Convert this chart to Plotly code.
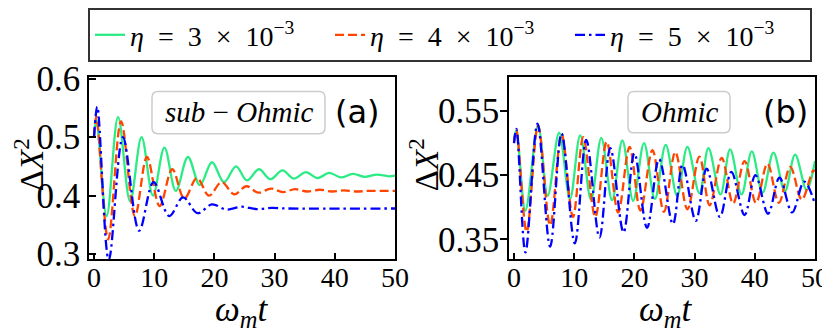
import plotly.graph_objects as go

# window is 830x333, the page body has an 8px margin
OFF = 8
W, H = 830 - OFF, 333 - OFF

# ---------------- data (extrema of the oscillations) ----------------
# panel (a): sub-Ohmic
t_a_green = [0, 0.4, 2.1, 4.0, 6.0, 7.9, 9.8, 11.7, 13.6, 15.6, 17.6, 19.6, 21.6, 23.6, 25.4, 27.4,
             29.3, 31.3, 33.2, 35.2, 37.1, 39.1, 41.0, 43.0, 45.0, 47.0, 48.9, 50]
v_a_green = [0.5, 0.53, 0.365, 0.534, 0.39, 0.5, 0.40, 0.482, 0.408, 0.466, 0.418, 0.457, 0.423, 0.45,
             0.426, 0.445, 0.428, 0.443, 0.429, 0.44, 0.43, 0.439, 0.431, 0.437, 0.432, 0.436, 0.433, 0.434]

t_a_red = [0, 0.4, 2.35, 4.5, 6.8, 8.8, 10.9, 13.0, 15.0, 17.1, 19.1, 21.2, 23.3, 25.3, 27.3, 29.4,
           31.4, 33.4, 35.4, 37.5, 39.5, 41.5, 43.5, 45.5, 50]
v_a_red = [0.5, 0.535, 0.325, 0.527, 0.365, 0.466, 0.382, 0.445, 0.395, 0.43, 0.40, 0.423, 0.402,
           0.416, 0.405, 0.412, 0.406, 0.411, 0.407, 0.41, 0.407, 0.409, 0.407, 0.408, 0.408]

t_a_blue = [0, 0.55, 2.45, 4.8, 7.5, 9.9, 12.5, 14.8, 17.2, 19.6, 22.0, 24.5, 27.0, 29.5, 32.0, 50]
v_a_blue = [0.5, 0.552, 0.29, 0.5, 0.34, 0.423, 0.365, 0.397, 0.37, 0.385, 0.376, 0.381, 0.377,
            0.379, 0.378, 0.378]

# panel (b): Ohmic
t_b_green = [0, 0.4, 1.9, 4.0, 5.6, 7.5, 9.3, 11.0, 12.8, 14.5, 16.3, 18.0, 19.8, 21.6, 23.4, 25.2,
             27.1, 28.8, 30.8, 32.3, 34.3, 35.9, 37.8, 39.5, 41.3, 43.1, 45.0, 46.7, 48.6, 50]
v_b_green = [0.505, 0.52, 0.395, 0.527, 0.418, 0.516, 0.413, 0.512, 0.412, 0.508, 0.411, 0.504,
             0.410, 0.500, 0.413, 0.497, 0.418, 0.494, 0.422, 0.492, 0.420, 0.490, 0.420, 0.487,
             0.423, 0.485, 0.425, 0.482, 0.427, 0.472]

t_b_red = [0, 0.4, 2.1, 4.0, 6.0, 7.9, 9.8, 11.5, 13.5, 15.4, 17.3, 19.2, 21.0, 23.0, 24.9, 26.8,
           28.8, 30.8, 32.5, 34.5, 36.4, 38.3, 40.2, 42.1, 44.0, 45.9, 47.8, 49.7, 50]
v_b_red = [0.5, 0.52, 0.362, 0.527, 0.372, 0.514, 0.385, 0.509, 0.385, 0.502, 0.392, 0.494, 0.395,
           0.489, 0.393, 0.486, 0.397, 0.479, 0.403, 0.477, 0.406, 0.472, 0.407, 0.468, 0.407,
           0.463, 0.412, 0.457, 0.456]

t_b_blue = [0, 0.4, 1.9, 3.9, 6.0, 7.9, 10.1, 12.0, 14.2, 16.0, 18.2, 20.0, 22.1, 24.1, 26.4, 28.0,
            30.2, 32.0, 34.2, 36.1, 38.3, 40.1, 42.2, 44.1, 46.2, 48.2, 50]
v_b_blue = [0.5, 0.522, 0.33, 0.53, 0.339, 0.515, 0.344, 0.505, 0.353, 0.492, 0.361, 0.484, 0.368,
            0.475, 0.374, 0.466, 0.379, 0.46, 0.385, 0.455, 0.388, 0.45, 0.39, 0.446, 0.392, 0.44,
            0.405]

SP = "\u2002"
series_names = [f"<i>η</i>{SP}={SP}3{SP}×{SP}10<sup>−3</sup>",
                f"<i>η</i>{SP}={SP}4{SP}×{SP}10<sup>−3</sup>",
                f"<i>η</i>{SP}={SP}5{SP}×{SP}10<sup>−3</sup>"]
colors = ["#2bec84", "#ff4500", "#0000ff"]
dashes = ["solid", "9px,4px", "10px,4px,2.5px,4px"]

x_ticks = [0, 10, 20, 30, 40, 50]
y_ticks_a = [0.3, 0.4, 0.5, 0.6]
y_ticks_a_text = ["0.3", "0.4", "0.5", "0.6"]
y_ticks_b = [0.35, 0.45, 0.55]
y_ticks_b_text = ["0.35", "0.45", "0.55"]

SERIF = "Liberation Serif"
SANS = "DejaVu Sans"

fig = go.Figure()

panel_a = [(t_a_green, v_a_green), (t_a_red, v_a_red), (t_a_blue, v_a_blue)]
panel_b = [(t_b_green, v_b_green), (t_b_red, v_b_red), (t_b_blue, v_b_blue)]

for i, (t, v) in enumerate(panel_a):
    fig.add_trace(go.Scatter(x=t, y=v, mode="lines", name=series_names[i],
                             line=dict(color=colors[i], dash=dashes[i], width=2.3,
                                       shape="spline", smoothing=1.0),
                             xaxis="x", yaxis="y", showlegend=True))
for i, (t, v) in enumerate(panel_b):
    fig.add_trace(go.Scatter(x=t, y=v, mode="lines", name=series_names[i],
                             line=dict(color=colors[i], dash=dashes[i], width=2.3,
                                       shape="spline", smoothing=1.0),
                             xaxis="x2", yaxis="y2", showlegend=False))

def px_x(p):
    return (p - OFF) / W

def px_y(p):
    return 1 - (p - OFF) / H

ydom = [px_y(258), px_y(72)]

axis_common = dict(showline=True, linecolor="black", linewidth=1.6, mirror=True,
                   showgrid=False, zeroline=False, tickcolor="black", tickwidth=1.5, ticklen=7,
                   automargin=False)

fig.update_layout(
    template="none",
    width=W, height=H, autosize=False,
    margin=dict(l=0, r=0, t=0, b=0, pad=0),
    plot_bgcolor="white", paper_bgcolor="white",
    font=dict(family=SERIF, color="black"),
    xaxis=dict(domain=[px_x(89), px_x(395)], range=[-0.83, 50], anchor="y",
               tickvals=x_ticks, ticks="inside", ticklabelstandoff=-8,
               tickfont=dict(family=SERIF, size=28, color="black"), **axis_common),
    yaxis=dict(domain=ydom, range=[0.291, 0.603], anchor="x",
               tickvals=y_ticks_a, ticktext=y_ticks_a_text, ticks="inside",
               tickfont=dict(family=SERIF, size=35, color="black"), **axis_common),
    xaxis2=dict(domain=[px_x(509), px_x(815)], range=[-0.83, 50], anchor="y2",
                tickvals=x_ticks, ticks="inside", ticklabelstandoff=-8,
                tickfont=dict(family=SERIF, size=28, color="black"), **axis_common),
    yaxis2=dict(domain=ydom, range=[0.319, 0.603], anchor="x2",
                tickvals=y_ticks_b, ticktext=y_ticks_b_text, ticks="outside", ticklabelstandoff=-6,
                tickfont=dict(family=SERIF, size=35, color="black"), **axis_common),
    legend=dict(orientation="h", x=px_x(88), y=px_y(2), xanchor="left", yanchor="top",
                bordercolor="#333333", borderwidth=2, bgcolor="white",
                font=dict(family=SERIF, size=28, color="black"),
                entrywidth=195, entrywidthmode="pixels"),
    showlegend=True,
)

annotations = [
    dict(text="Δ<i>X</i><sup>2</sup>", x=px_x(29), y=px_y(162), textangle=-90,
         font=dict(family=SERIF, size=33, color="black")),
    dict(text="Δ<i>X</i><sup>2</sup>", x=px_x(424), y=px_y(162), textangle=-90,
         font=dict(family=SERIF, size=33, color="black")),
    dict(text="<i>ω<sub>m</sub>t</i>", x=px_x(241), y=px_y(311),
         font=dict(family=SERIF, size=35, color="black")),
    dict(text="<i>ω<sub>m</sub>t</i>", x=px_x(665), y=px_y(311),
         font=dict(family=SERIF, size=35, color="black")),
    dict(text="<i>sub</i> − <i>Ohmic</i>", x=px_x(239), y=px_y(108),
         font=dict(family=SERIF, size=29, color="black")),
    dict(text="<i>Ohmic</i>", x=px_x(679), y=px_y(108),
         font=dict(family=SERIF, size=29, color="black")),
    dict(text="(a)", x=px_x(357), y=px_y(108),
         font=dict(family=SANS, size=32, color="black")),
    dict(text="(b)", x=px_x(785), y=px_y(108),
         font=dict(family=SANS, size=32, color="black")),
]
for a in annotations:
    a.update(xref="paper", yref="paper", showarrow=False, xanchor="center", yanchor="middle")
fig.update_layout(annotations=annotations)

def rounded_box(x0, y0, x1, y1, r=6):
    # pixel coordinates -> paper path
    def P(x, y):
        return f"{px_x(x):.5f},{px_y(y):.5f}"
    return (f"M {P(x0 + r, y0)} L {P(x1 - r, y0)} Q {P(x1, y0)} {P(x1, y0 + r)} "
            f"L {P(x1, y1 - r)} Q {P(x1, y1)} {P(x1 - r, y1)} L {P(x0 + r, y1)} "
            f"Q {P(x0, y1)} {P(x0, y1 - r)} L {P(x0, y0 + r)} Q {P(x0, y0)} {P(x0 + r, y0)} Z")

fig.update_layout(shapes=[
    dict(type="path", xref="paper", yref="paper", path=rounded_box(152, 87, 325, 130),
         line=dict(color="#cccccc", width=1.5), fillcolor="rgba(255,255,255,0.8)", layer="above"),
    dict(type="path", xref="paper", yref="paper", path=rounded_box(628, 87, 730, 129),
         line=dict(color="#cccccc", width=1.5), fillcolor="rgba(255,255,255,0.8)", layer="above"),
])

fig.write_html("out.html")
